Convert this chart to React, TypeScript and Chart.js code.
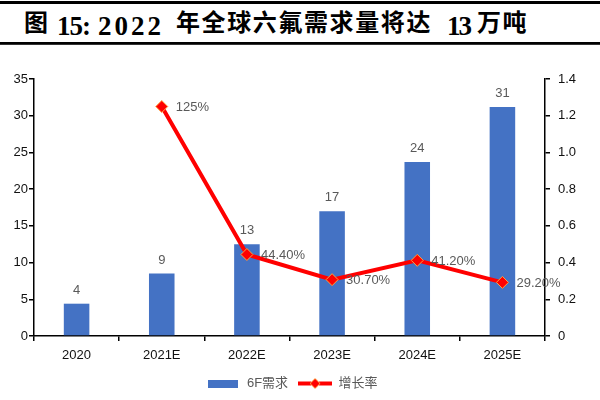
import React, { useEffect, useRef } from "react";
import { Chart, registerables } from "chart.js";

Chart.register(...registerables);

const titleParts = [
  { text: "图", left: 24, cjk: true, ls: 0 },
  { text: "15:", left: 57, cjk: false, ls: -1 },
  { text: "2022", left: 98, cjk: false, ls: 3 },
  { text: "年全球六氟需求量将达", left: 176, cjk: true, ls: 1.6 },
  { text: "13", left: 447, cjk: false, ls: -2 },
  { text: "万吨", left: 477, cjk: true, ls: 1.6 },
];
const categories = ["2020", "2021E", "2022E", "2023E", "2024E", "2025E"];
const demandValues = [4.4, 8.5, 12.5, 17.0, 23.7, 31.2];
const demandLabels = ["4", "9", "13", "17", "24", "31"];
const growthValues: (number | null)[] = [null, 1.25, 0.444, 0.307, 0.412, 0.292];
const growthLabels = ["", "125%", "44.40%", "30.70%", "41.20%", "29.20%"];
const seriesNames = ["6F需求", "增长率"];

const BAR_COLOR = "#4472C4";
const LINE_COLOR = "#FF0000";
const MARKER_BORDER = "#FFA040";
const FONT = "'Liberation Sans', 'Noto Sans CJK SC', sans-serif";

const labelPlugin = {
  id: "valueLabels",
  beforeDraw(chart: any) {
    const lg = chart.legend;
    if (lg && !lg._shifted) {
      lg.left -= 8;
      lg.right -= 8;
      lg._shifted = true;
    }
  },
  afterLayout(chart: any) {
    if (chart.legend) chart.legend._shifted = false;
  },
  afterDatasetsDraw(chart: any) {
    const ctx = chart.ctx;
    ctx.save();
    ctx.font = `13px ${FONT}`;
    ctx.fillStyle = "#595959";
    const barMeta = chart.getDatasetMeta(0);
    ctx.textAlign = "center";
    ctx.textBaseline = "bottom";
    barMeta.data.forEach((el: any, i: number) => {
      ctx.fillText(demandLabels[i], el.x, el.y - 7);
    });
    const lineMeta = chart.getDatasetMeta(1);
    ctx.textAlign = "left";
    ctx.textBaseline = "middle";
    lineMeta.data.forEach((el: any, i: number) => {
      if (growthValues[i] == null) return;
      ctx.fillText(growthLabels[i], el.x + 14, el.y + 1);
    });
    ctx.restore();
  },
};

function makeBarSwatch() {
  const c = document.createElement("canvas");
  c.width = 30;
  c.height = 8;
  const g = c.getContext("2d")!;
  g.fillStyle = BAR_COLOR;
  g.fillRect(0, 0, 30, 8);
  return c;
}

function makeLineSwatch() {
  const c = document.createElement("canvas");
  c.width = 34;
  c.height = 12;
  const g = c.getContext("2d")!;
  g.strokeStyle = LINE_COLOR;
  g.lineWidth = 4;
  g.beginPath();
  g.moveTo(0, 6);
  g.lineTo(34, 6);
  g.stroke();
  g.beginPath();
  g.moveTo(17 - 5, 6);
  g.lineTo(17, 1);
  g.lineTo(17 + 5, 6);
  g.lineTo(17, 11);
  g.closePath();
  g.fillStyle = LINE_COLOR;
  g.fill();
  g.strokeStyle = MARKER_BORDER;
  g.lineWidth = 1;
  g.stroke();
  return c;
}

export default function App() {
  const canvasRef = useRef<HTMLCanvasElement | null>(null);

  useEffect(() => {
    if (!canvasRef.current) return;
    const barSwatch = makeBarSwatch();
    const lineSwatch = makeLineSwatch();
    const tickFont = { family: FONT, size: 13 };
    const axisGrid = {
      drawOnChartArea: false,
      drawTicks: true,
      tickLength: 5,
      color: "#000",
      lineWidth: 1.5,
    };
    const chart = new Chart(canvasRef.current, {
      type: "bar",
      data: {
        labels: categories,
        datasets: [
          {
            type: "bar",
            label: seriesNames[0],
            data: demandValues,
            backgroundColor: BAR_COLOR,
            barPercentage: 0.3,
            categoryPercentage: 1.0,
            yAxisID: "y",
            order: 1,
          },
          {
            type: "line",
            label: seriesNames[1],
            data: growthValues,
            borderColor: LINE_COLOR,
            borderWidth: 4,
            pointStyle: "rectRot",
            pointRadius: 6,
            pointBackgroundColor: LINE_COLOR,
            pointBorderColor: MARKER_BORDER,
            pointBorderWidth: 1,
            tension: 0,
            yAxisID: "y2",
            order: 0,
          } as any,
        ],
      },
      options: {
        responsive: false,
        animation: false,
        layout: { padding: { top: 33, left: 0, right: 0, bottom: 0 } },
        plugins: {
          tooltip: { enabled: false },
          legend: {
            position: "bottom",
            labels: {
              usePointStyle: true,
              pointStyleWidth: 34,
              padding: 10,
              color: "#595959",
              font: { family: FONT, size: 13 },
              generateLabels: () => [
                {
                  text: seriesNames[0],
                  pointStyle: barSwatch as any,
                  fillStyle: BAR_COLOR,
                  strokeStyle: BAR_COLOR,
                  lineWidth: 0,
                  hidden: false,
                  datasetIndex: 0,
                  fontColor: "#595959",
                },
                {
                  text: seriesNames[1],
                  pointStyle: lineSwatch as any,
                  fillStyle: LINE_COLOR,
                  strokeStyle: LINE_COLOR,
                  lineWidth: 0,
                  hidden: false,
                  datasetIndex: 1,
                  fontColor: "#595959",
                },
              ],
            },
          },
        },
        scales: {
          x: {
            offset: true,
            grid: { ...axisGrid, offset: true },
            border: { color: "#000", width: 1.5 },
            ticks: { color: "#111", font: tickFont, padding: 7 },
            afterFit: (s: any) => {
              s.height = 31;
            },
          },
          y: {
            position: "left",
            min: 0,
            max: 35,
            ticks: { stepSize: 5, color: "#111", font: tickFont, padding: 1 },
            grid: axisGrid,
            border: { color: "#000", width: 1.5 },
            afterFit: (s: any) => {
              s.width = 34;
            },
          },
          y2: {
            position: "right",
            min: 0,
            max: 1.4,
            ticks: { stepSize: 0.2, color: "#111", font: tickFont, padding: 8 },
            grid: axisGrid,
            border: { color: "#000", width: 1.5 },
            afterFit: (s: any) => {
              s.width = 55;
            },
          },
        },
      },
      plugins: [labelPlugin],
    });
    return () => chart.destroy();
  }, []);

  return (
    <div
      style={{
        position: "absolute",
        left: 0,
        top: 0,
        width: 600,
        height: 400,
        background: "#fff",
        overflow: "hidden",
      }}
    >
      <div style={{ position: "absolute", left: 0, top: 1, width: 600, height: 2.5, background: "#000" }} />
      {titleParts.map((p, i) => (
        <span
          key={i}
          style={{
            position: "absolute",
            left: p.left,
            top: p.cjk ? 9 : 12.5,
            lineHeight: 1,
            whiteSpace: "nowrap",
            color: "#000",
            fontWeight: "bold",
            fontFamily: p.cjk ? "'Noto Sans CJK SC', serif" : "'Liberation Serif', serif",
            fontSize: p.cjk ? 24 : 27,
            letterSpacing: p.ls,
          }}
        >
          {p.text}
        </span>
      ))}
      <div style={{ position: "absolute", left: 0, top: 41.5, width: 600, height: 2.2, background: "#000" }} />
      <div style={{ position: "absolute", left: 0, top: 44.3, width: 600, height: 1, background: "#333" }} />
      <canvas
        ref={canvasRef}
        width={600}
        height={354}
        style={{ position: "absolute", left: 0, top: 46, width: 600, height: 354 }}
      />
    </div>
  );
}
